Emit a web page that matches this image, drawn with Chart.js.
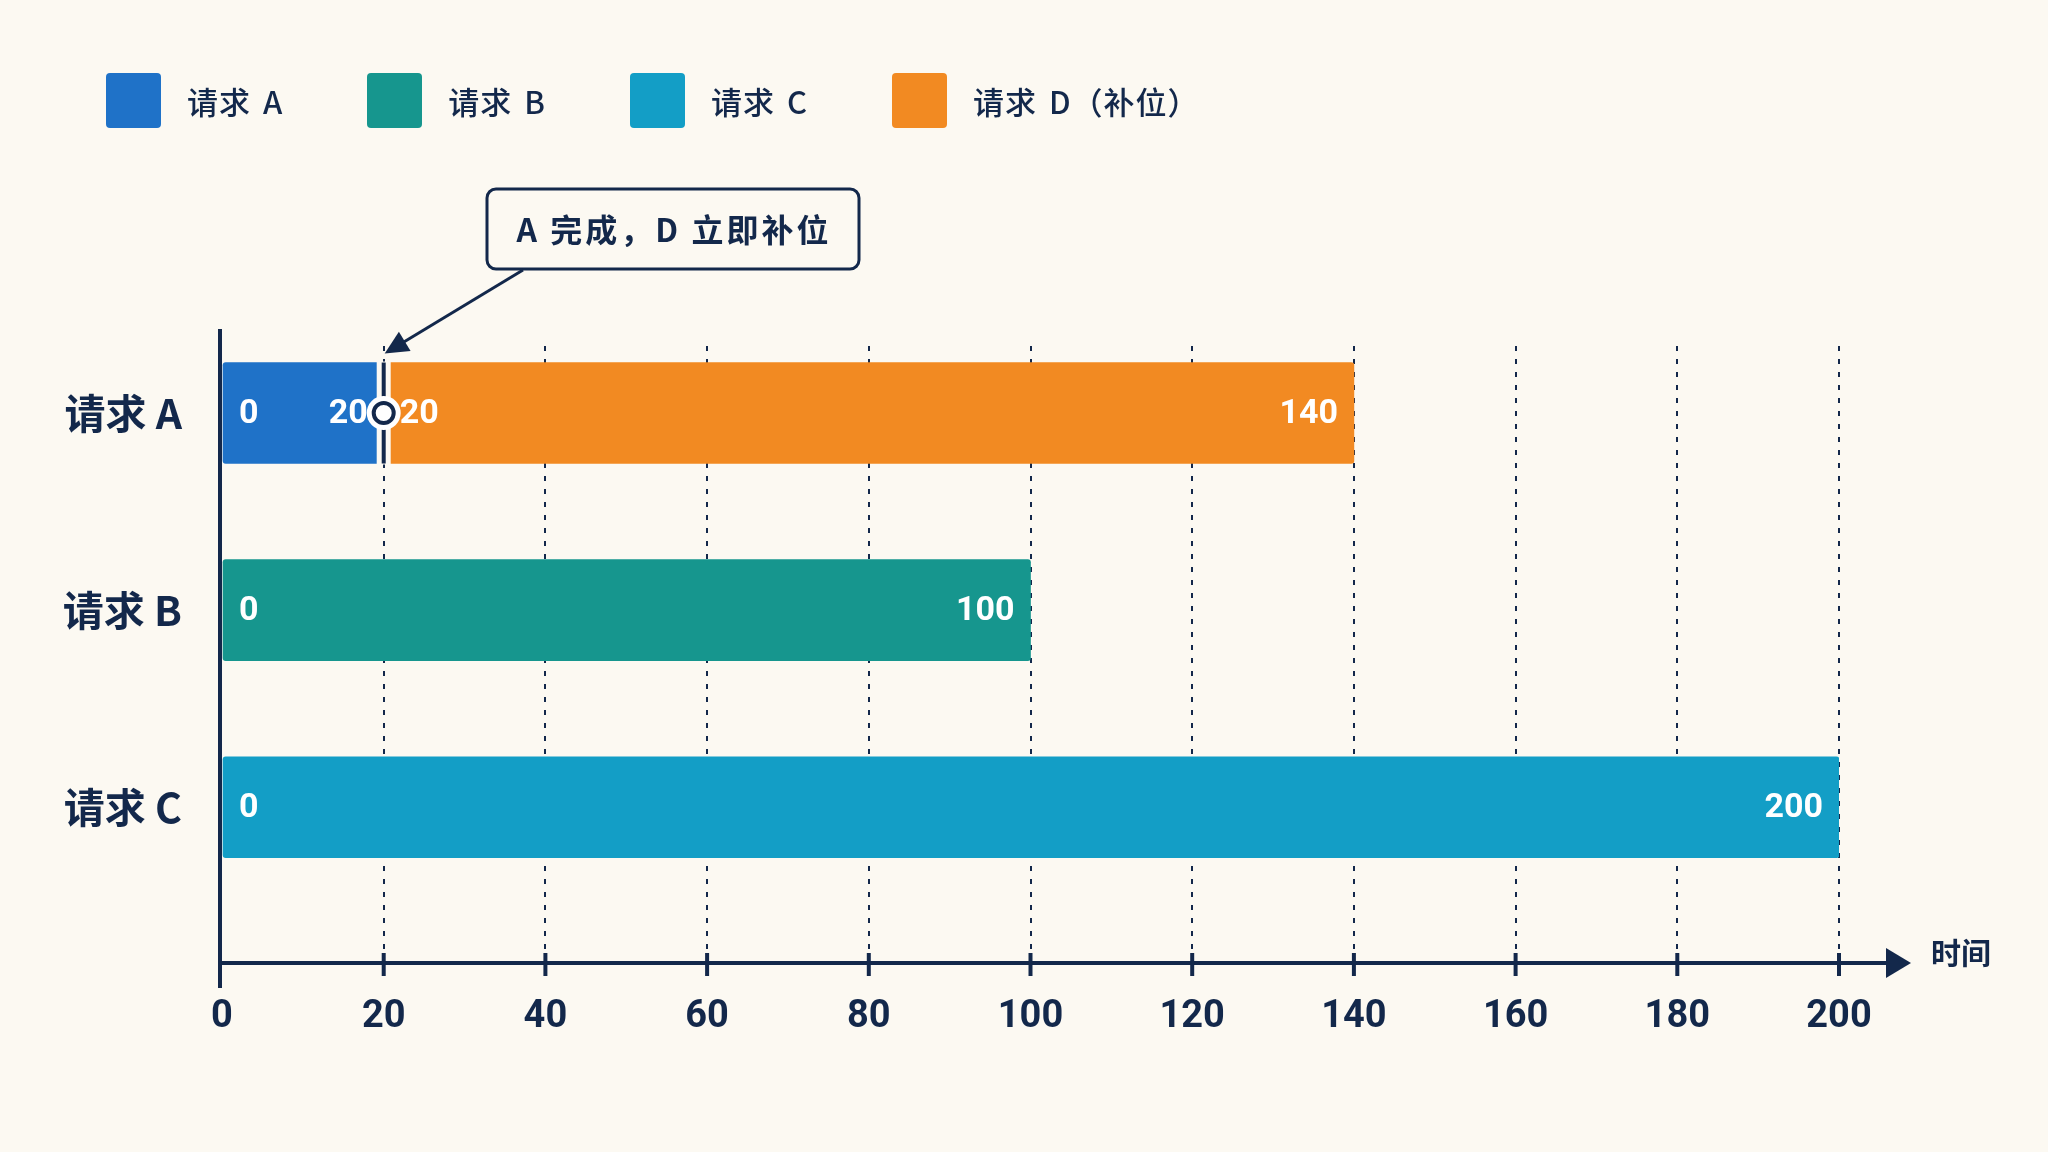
<!DOCTYPE html>
<html lang="zh-CN">
<head>
  <meta charset="UTF-8">
  <title>请求补位时间线</title>
  <script src="https://cdn.jsdelivr.net/npm/chart.js"></script>
  <style>
    body {
      margin: 0;
      background-color: #fcf9f2;
      font-family: "Noto Sans CJK SC", sans-serif;
    }

    .wrap {
      position: relative;
      width: 2048px;
      height: 1152px;
    }

    #legend {
      position: absolute;
      left: 106px;
      top: 73px;
      display: flex;
    }

    .legend-item {
      display: flex;
      align-items: center;
      height: 55px;
      margin-right: 84px;
    }

    .legend-box {
      width: 55px;
      height: 55px;
      border-radius: 4px;
      margin-right: 26px;
    }

    .legend-item span {
      font-size: 31px;
      font-weight: 500;
      word-spacing: 4px;
      letter-spacing: 1px;
      color: #13284b;
    }
  </style>
</head>
<body>
  <div class="wrap">
    <div id="legend"></div>
    <canvas id="timeline" width="2048" height="1152"></canvas>
  </div>

  <script>
    // data
    const categories = ['请求 A', '请求 B', '请求 C'];
    const seriesNames = ['请求 A', '请求 B', '请求 C', '请求 D（补位）'];
    const seriesRow = [0, 1, 2, 0];
    const seriesStart = [0, 0, 0, 20];
    const seriesEnd = [20, 100, 200, 140];
    const timeTicks = [0, 20, 40, 60, 80, 100, 120, 140, 160, 180, 200];
    const handoffTime = 20;
    const calloutText = 'A 完成，D 立即补位';
    const axisName = '时间';

    const colors = ['#1f72c8', '#16968e', '#139ec6', '#f28a22'];
    const navy = '#13284b';
    const bg = '#fcf9f2';
    const numFont = 'Roboto, "Noto Sans CJK SC", sans-serif';
    const cjkFont = '"Noto Sans CJK SC", sans-serif';

    // legend (html)
    var legendEl = document.getElementById('legend');
    seriesNames.forEach(function (name, i) {
      var item = document.createElement('div');
      item.className = 'legend-item';
      item.innerHTML = '<div class="legend-box" style="background:' + colors[i] + '"></div><span>' + name + '</span>';
      legendEl.appendChild(item);
    });

    var datasets = seriesNames.map(function (name, i) {
      return {
        label: name,
        data: [{ y: seriesRow[i], x: [seriesStart[i], seriesEnd[i]] }],
        backgroundColor: colors[i],
        borderRadius: 3,
        borderSkipped: false,
        barThickness: 101,
        grouped: false
      };
    });

    // start / end numbers inside each bar
    var barText = {
      id: 'barText',
      afterDatasetsDraw(chart) {
        var ctx = chart.ctx;
        ctx.save();
        ctx.font = 'bold 34px ' + numFont;
        ctx.fillStyle = '#ffffff';
        ctx.textBaseline = 'middle';
        chart.data.datasets.forEach(function (ds, i) {
          chart.getDatasetMeta(i).data.forEach(function (bar) {
            ctx.textAlign = 'left';
            ctx.fillText(String(seriesStart[i]), bar.base + 16, bar.y + 1);
            ctx.textAlign = 'right';
            ctx.fillText(String(seriesEnd[i]), bar.x - 16, bar.y + 1);
          });
        });
        ctx.restore();
      }
    };

    // axes with arrow, handoff marker and callout
    var overlay = {
      id: 'overlay',
      afterDatasetsDraw(chart) {
        var ctx = chart.ctx;
        var area = chart.chartArea;
        var xs = chart.scales.x;
        ctx.save();

        // handoff marker between A and D
        var mx = xs.getPixelForValue(handoffTime);
        var barA = chart.getDatasetMeta(0).data[0];
        var top = barA.y - barA.height / 2;
        var bottom = barA.y + barA.height / 2;
        ctx.fillStyle = bg;
        ctx.fillRect(mx - 7, top - 1, 14, bottom - top + 2);
        ctx.strokeStyle = navy;
        ctx.lineWidth = 4;
        ctx.beginPath();
        ctx.moveTo(mx, top);
        ctx.lineTo(mx, bottom);
        ctx.stroke();
        ctx.fillStyle = '#ffffff';
        ctx.beginPath();
        ctx.arc(mx, barA.y, 17, 0, Math.PI * 2);
        ctx.fill();
        ctx.beginPath();
        ctx.arc(mx, barA.y, 10, 0, Math.PI * 2);
        ctx.fill();
        ctx.stroke();

        // callout box
        var bx = 487, by = 189, bw = 372, bh = 80;
        ctx.fillStyle = bg;
        ctx.lineWidth = 3;
        ctx.beginPath();
        ctx.roundRect(bx, by, bw, bh, 9);
        ctx.fill();
        ctx.stroke();
        ctx.fillStyle = navy;
        ctx.font = 'bold 32px ' + cjkFont;
        ctx.letterSpacing = '3px';
        ctx.textAlign = 'center';
        ctx.textBaseline = 'middle';
        ctx.fillText(calloutText, bx + bw / 2 + 1, by + bh / 2 + 1);
        ctx.letterSpacing = '0px';

        // callout arrow
        var sx = bx + 36, sy = by + bh + 1;
        var tx = mx + 1, ty = top - 9;
        var ang = Math.atan2(ty - sy, tx - sx);
        ctx.lineWidth = 3;
        ctx.beginPath();
        ctx.moveTo(sx, sy);
        ctx.lineTo(tx - Math.cos(ang) * 18, ty - Math.sin(ang) * 18);
        ctx.stroke();
        ctx.beginPath();
        ctx.moveTo(tx, ty);
        ctx.lineTo(tx - Math.cos(ang - 0.45) * 26, ty - Math.sin(ang - 0.45) * 26);
        ctx.lineTo(tx - Math.cos(ang + 0.45) * 26, ty - Math.sin(ang + 0.45) * 26);
        ctx.closePath();
        ctx.fill();

        // y axis
        var ax = area.left - 2;
        var ay = area.bottom;
        ctx.lineWidth = 4;
        ctx.beginPath();
        ctx.moveTo(ax, area.top - 17);
        ctx.lineTo(ax, ay + 25);
        ctx.stroke();

        // x axis with arrow
        var tip = area.right + 72;
        ctx.beginPath();
        ctx.moveTo(ax, ay);
        ctx.lineTo(tip - 20, ay);
        ctx.stroke();
        ctx.beginPath();
        ctx.moveTo(tip, ay);
        ctx.lineTo(tip - 25, ay - 15);
        ctx.lineTo(tip - 25, ay + 15);
        ctx.closePath();
        ctx.fill();

        // tick marks
        timeTicks.forEach(function (v) {
          if (v === 0) return;
          var px = xs.getPixelForValue(v);
          ctx.beginPath();
          ctx.moveTo(px, ay - 10);
          ctx.lineTo(px, ay + 13);
          ctx.stroke();
        });

        // axis name
        ctx.font = 'bold 30px ' + cjkFont;
        ctx.textAlign = 'left';
        ctx.textBaseline = 'middle';
        ctx.fillText(axisName, tip + 20, ay - 10);

        ctx.restore();
      }
    };

    var ctxTimeline = document.getElementById('timeline').getContext('2d');

    var timeline = new Chart(ctxTimeline, {
      type: 'bar',
      data: { datasets: datasets },
      options: {
        indexAxis: 'y',
        responsive: false,
        animation: false,
        events: [],
        layout: {
          padding: { top: 346, right: 209, bottom: 0, left: 0 }
        },
        plugins: {
          legend: { display: false },
          tooltip: { enabled: false }
        },
        scales: {
          x: {
            type: 'linear',
            min: 0,
            max: 200,
            afterBuildTicks: function (scale) {
              scale.ticks = timeTicks.map(function (v) { return { value: v }; });
            },
            afterFit: function (scale) {
              scale.height = 189;
            },
            ticks: {
              padding: 32,
              color: navy,
              font: { family: numFont, size: 38, weight: 'bold' }
            },
            grid: {
              drawTicks: false,
              lineWidth: 2,
              color: function (c) {
                return c.tick && c.tick.value === 0 ? 'rgba(0,0,0,0)' : navy;
              }
            },
            border: { display: false, dash: [5, 8] }
          },
          y: {
            type: 'linear',
            reverse: true,
            offset: false,
            min: -0.34,
            max: 2.79,
            afterBuildTicks: function (scale) {
              scale.ticks = categories.map(function (c, i) { return { value: i }; });
            },
            afterFit: function (scale) {
              scale.width = 222;
            },
            ticks: {
              padding: 32,
              color: navy,
              font: { family: cjkFont, size: 41, weight: 'bold' },
              callback: function (v) { return categories[v]; }
            },
            grid: { display: false, offset: false },
            border: { display: false }
          }
        }
      },
      plugins: [barText, overlay]
    });
  </script>
</body>
</html>
